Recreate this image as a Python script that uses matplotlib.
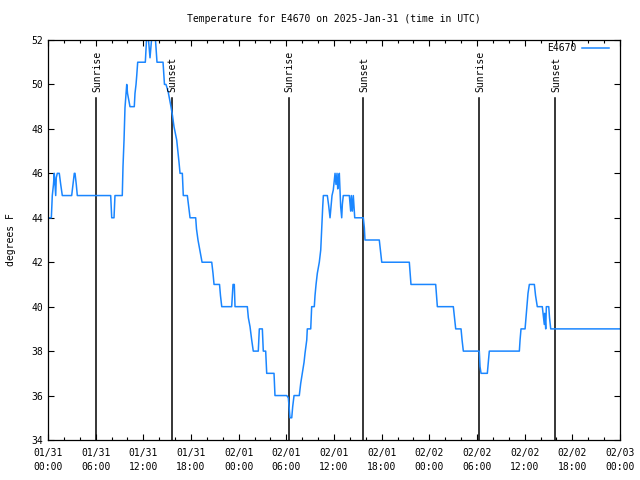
import matplotlib
matplotlib.use("Agg")
import matplotlib.pyplot as plt
from matplotlib.ticker import MultipleLocator

# hours since 2025-01-31 00:00 UTC
hours = [0.00, 0.42, 0.54, 0.69, 0.79, 0.97, 1.04, 1.17, 1.42, 1.60, 1.80, 2.98, 3.15, 3.31, 3.40,
         3.56, 3.69, 7.89, 8.02, 8.31, 8.43, 9.35, 9.44, 9.57, 9.69, 9.91, 10.01, 10.11, 10.32,
         10.86, 10.95, 11.08, 11.17, 11.29, 12.25, 12.40, 12.65, 12.84, 13.03, 13.53, 13.72,
         14.48, 14.66, 14.85, 15.11, 15.48, 15.67, 15.86, 16.20, 16.49, 16.62, 16.91, 17.03,
         17.54, 17.88, 18.59, 18.69, 18.88, 19.13, 19.39, 20.61, 20.77, 20.90, 21.59, 21.71,
         21.87, 23.12, 23.29, 23.45, 23.54, 25.09, 25.22, 25.43, 25.64, 25.84, 26.47, 26.60,
         26.98, 27.10, 27.40, 27.53, 28.45, 28.57, 30.05, 30.25, 30.34, 30.46, 30.68, 30.80,
         30.97, 31.63, 31.81, 31.94, 32.06, 32.23, 32.35, 32.57, 32.64, 33.07, 33.19, 33.52,
         33.61, 33.74, 33.90, 34.15, 34.33, 34.45, 34.58, 34.66, 35.16, 35.33, 35.50, 35.62,
         35.75, 35.91, 36.13, 36.25, 36.38, 36.47, 36.54, 36.67, 36.84, 36.97, 37.05, 37.17,
         37.93, 38.10, 38.18, 38.31, 38.43, 38.61, 39.69, 39.82, 39.90, 41.70, 41.86, 42.01,
         45.48, 45.59, 45.69, 48.80, 48.90, 49.01, 51.02, 51.17, 51.32, 51.99, 52.12, 52.28,
         54.29, 54.38, 54.51, 55.30, 55.43, 55.55, 59.33, 59.42, 59.54, 60.05, 60.17, 60.30,
         60.42, 60.59, 61.22, 61.37, 61.59, 62.22, 62.31, 62.47, 62.52, 62.65, 62.73, 63.03,
         63.13, 63.28, 72.00]
temps = [44, 44, 45, 45.5, 46, 45, 45.8, 46, 46, 45.5, 45, 45, 45.5, 46, 46,
         45.5, 45, 45, 44, 44, 45, 45, 46.3, 47.5, 48.95, 50, 49.6, 49.4, 49,
         49, 49.6, 50, 50.4, 51, 51, 52, 52, 51.2, 52, 52, 51,
         51, 50, 50, 49.7, 49, 48.6, 48.1, 47.5, 46.5, 46, 46, 45,
         45, 44, 44, 43.5, 43, 42.5, 42, 42, 41.5, 41, 41, 40.5,
         40, 40, 41, 41, 40, 40, 39.5, 39.1, 38.5, 38, 38, 39,
         39, 38, 38, 37, 37, 36, 36, 35.9, 35.5, 35, 35, 35.5,
         36, 36, 36.55, 36.85, 37.15, 37.5, 37.9, 38.5, 39, 39, 40, 40,
         40.5, 41, 41.5, 42, 42.55, 43.5, 44.5, 45, 45, 44.55, 44, 44.5,
         45, 45.25, 46, 45.5, 46, 45.3, 45.7, 46, 44.5, 44, 44.6, 45,
         45, 44.3, 45, 44.3, 45, 44, 44, 43.55, 43, 43, 42.5, 42,
         42, 41.5, 41, 41, 40.5, 40, 40, 39.5, 39, 39, 38.5, 38,
         38, 37.3, 37, 37, 37.5, 38, 38, 38.5, 39, 39, 39.5, 40,
         40.6, 41, 41, 40.5, 40, 40, 39.7, 39.2, 39.7, 39, 40, 40,
         39.5, 39, 39]

event_hours = [6.08, 15.57, 30.31, 39.69, 54.29, 63.88]
event_names = ["Sunrise", "Sunset", "Sunrise", "Sunset", "Sunrise", "Sunset"]

xtick_hours = list(range(0, 73, 6))
xtick_labels = ["01/31\n00:00", "01/31\n06:00", "01/31\n12:00", "01/31\n18:00",
                "02/01\n00:00", "02/01\n06:00", "02/01\n12:00", "02/01\n18:00",
                "02/02\n00:00", "02/02\n06:00", "02/02\n12:00", "02/02\n18:00",
                "02/03\n00:00"]
series_name = "E4670"

plt.rcParams['font.family'] = ['DejaVu Sans Mono']
fs = 7

fig = plt.figure(figsize=(6.4, 4.8), dpi=100)
ax = fig.add_axes([48/640, 40/480, 572/640, 400/480])

for h, name in zip(event_hours, event_names):
    ax.plot([h, h], [34, 49.37], color='black', lw=1.1, zorder=1)
    ax.text(h + 0.12, 49.66, name, rotation=90, ha='center', va='bottom',
            fontsize=fs, color='black')

ax.plot(hours, temps, color='#1a86ff', lw=1.1, label=series_name, zorder=2)

ax.set_xlim(0, 72)
ax.set_ylim(34, 52)
ax.set_xticks(xtick_hours)
ax.set_xticklabels(xtick_labels, fontsize=fs, linespacing=1.5)
ax.xaxis.set_minor_locator(MultipleLocator(2))
ax.yaxis.set_major_locator(MultipleLocator(2))
ax.tick_params(axis='y', labelsize=fs)
ax.tick_params(which='both', direction='in', top=True, right=True, width=0.8)
ax.tick_params(which='major', length=4)
ax.tick_params(which='minor', length=2.5)
ax.tick_params(axis='x', pad=6)
for s in ax.spines.values():
    s.set_linewidth(0.9)

ax.set_ylabel("degrees F", fontsize=fs, labelpad=11)
ax.set_title("Temperature for E4670 on 2025-Jan-31 (time in UTC)", fontsize=fs, pad=13)

leg = ax.legend(loc='upper right', frameon=False, markerfirst=False, fontsize=fs,
                handlelength=2.8, borderaxespad=0.7, handletextpad=0.6,
                bbox_to_anchor=(1.0, 1.018))

fig.savefig("out.png", dpi=100)
